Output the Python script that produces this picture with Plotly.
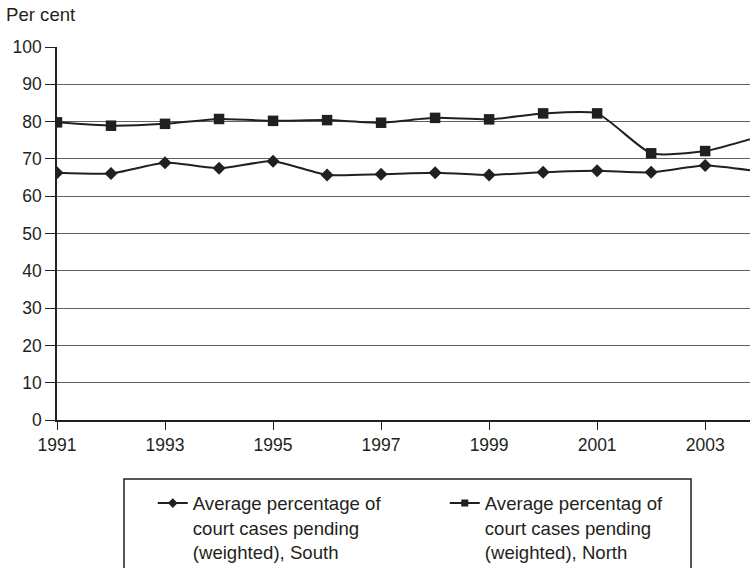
import plotly.graph_objects as go

years = [1991, 1992, 1993, 1994, 1995, 1996, 1997, 1998, 1999, 2000, 2001, 2002, 2003, 2004]
south = [66.3, 66.1, 69.0, 67.5, 69.4, 65.7, 65.9, 66.3, 65.7, 66.4, 66.8, 66.4, 68.2, 66.6]
north = [79.8, 78.9, 79.4, 80.7, 80.2, 80.4, 79.7, 81.0, 80.6, 82.2, 82.2, 71.5, 72.1, 76.0]
south_name = "Average percentage of<br>court cases pending<br>(weighted), South"
north_name = "Average percentag of<br>court cases pending<br>(weighted), North"
y_ticks = list(range(0, 101, 10))
x_ticks = [1991, 1993, 1995, 1997, 1999, 2001, 2003]

INK = "#231f20"
FONT = "Liberation Sans, Arial, sans-serif"
FS = 17.5
FS_TEXT = 18.6

fig = go.Figure()
fig.add_trace(go.Scatter(
    x=years, y=south, mode="lines+markers", showlegend=False,
    line=dict(color=INK, width=2, shape="spline", smoothing=0.55),
    marker=dict(symbol="diamond", size=10, color=INK),
))
fig.add_trace(go.Scatter(
    x=years, y=north, mode="lines+markers", showlegend=False,
    line=dict(color=INK, width=2, shape="spline", smoothing=0.55),
    marker=dict(symbol="square", size=10.5, color=INK),
))
# legend entries
fig.add_trace(go.Scatter(
    x=[None], y=[None], mode="lines+markers", name=south_name,
    line=dict(color=INK, width=2), marker=dict(symbol="diamond", size=7.5, color=INK),
))
fig.add_trace(go.Scatter(
    x=[None], y=[None], mode="lines+markers", name=north_name,
    line=dict(color=INK, width=2), marker=dict(symbol="square", size=7, color=INK),
))

fig.update_layout(
    width=750, height=568,
    margin=dict(l=57, r=0, t=47, b=148, autoexpand=False),
    paper_bgcolor="white", plot_bgcolor="white",
    font=dict(family=FONT, size=FS, color=INK),
    showlegend=True,
    legend=dict(
        orientation="h", x=0.105 + 23 / 693, xanchor="left", y=-0.173, yanchor="top",
        entrywidth=247, entrywidthmode="pixels", valign="top",
        bgcolor="rgba(0,0,0,0)", borderwidth=0,
        font=dict(family=FONT, size=FS_TEXT, color=INK),
    ),
    xaxis=dict(
        range=[1991, 2003.83], tickvals=x_ticks, ticktext=[str(v) for v in x_ticks],
        showgrid=False, zeroline=False, automargin=False,
        showline=True, linecolor=INK, linewidth=1.5,
        ticks="outside", ticklen=8, tickcolor=INK, tickwidth=1.2,
    ),
    yaxis=dict(
        range=[0, 100], tickvals=y_ticks, automargin=False,
        showgrid=True, gridcolor="#606060", gridwidth=1.2, zeroline=False,
        showline=True, linecolor=INK, linewidth=1.5,
        ticks="outside", ticklen=10, tickcolor=INK, tickwidth=1.2,
    ),
    annotations=[dict(
        text="Per cent", xref="paper", yref="paper", x=-53/693, y=1 + 32 / 373,
        xanchor="left", yanchor="middle", showarrow=False,
        font=dict(family=FONT, size=FS_TEXT, color=INK),
    )],
    shapes=[dict(
        type="rect", xref="paper", yref="paper",
        x0=(124 - 57) / 693, x1=(691 - 57) / 693,
        y0=(420 - 479) / 373, y1=(420 - 600) / 373,
        line=dict(color=INK, width=1.5), fillcolor="rgba(0,0,0,0)", layer="above",
    )],
)

fig.write_html(
    "out.html",
    config={"displayModeBar": False},
    post_script="document.body.style.margin='0';",
)
